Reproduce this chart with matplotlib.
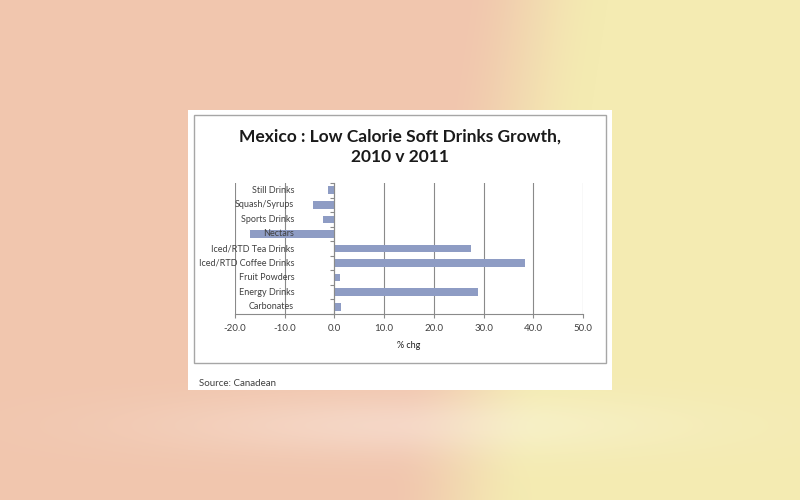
import numpy as np
import matplotlib
matplotlib.use("Agg")
import matplotlib.pyplot as plt
from matplotlib.patches import Rectangle
from matplotlib.colors import to_rgb

# ---------------------------------------------------------------------
# Data
# ---------------------------------------------------------------------
categories = ["Still Drinks", "Squash/Syrups", "Sports Drinks", "Nectars",
              "Iced/RTD Tea Drinks", "Iced/RTD Coffee Drinks", "Fruit Powders",
              "Energy Drinks", "Carbonates"]
pct_chg = [-1.2, -4.4, -2.2, -16.9, 27.4, 38.3, 1.1, 28.8, 1.4]
x_ticks = [-20, -10, 0, 10, 20, 30, 40, 50]

title = "Mexico : Low Calorie Soft Drinks Growth,\n2010 v 2011"
x_label = "% chg"
source = "Source: Canadean"

# Colours
bar_colour = "#8e9cc4"
grid_colour = "#8a8a8a"
peach = "#f1c6ae"
yellow = "#f4ebb2"

plt.rcParams["font.family"] = ["Lato", "DejaVu Sans"]

fig = plt.figure(figsize=(8, 5), dpi=100)

# ---------------------------------------------------------------------
# Background: peach to pale yellow blend
# ---------------------------------------------------------------------
bg = fig.add_axes([0, 0, 1, 1], zorder=-10)
h, w = 500, 800
yy, xx = np.mgrid[0:h, 0:w]
t = np.clip((xx - 420 + 0.15 * (yy - 250)) / 150.0, 0, 1)
t = t * t * (3 - 2 * t)
c1 = np.array(to_rgb(peach))
c2 = np.array(to_rgb(yellow))
img = c1[None, None, :] * (1 - t[..., None]) + c2[None, None, :] * t[..., None]
# lighter reflection below the panel
band = np.exp(-((yy - 425) / 30.0) ** 2) * np.exp(-((xx - 420) / 260.0) ** 2) * 0.3
img = img + (1 - img) * band[..., None]
bg.imshow(img, aspect="auto", extent=[0, 1, 0, 1])
bg.set_axis_off()

# white chart panel and inner border
fig.patches.append(Rectangle((0.235, 0.22), 0.53, 0.56, transform=fig.transFigure,
                             facecolor="white", edgecolor="none", zorder=-5))
fig.patches.append(Rectangle((0.2425, 0.274), 0.515, 0.496, transform=fig.transFigure,
                             facecolor="none", edgecolor="#a6a6a6", lw=1.0, zorder=-4))

# ---------------------------------------------------------------------
# Bar chart
# ---------------------------------------------------------------------
ax = fig.add_axes([0.29375, 0.372, 0.435, 0.262])
ax.set_facecolor("none")
pos = np.arange(len(categories))
ax.barh(pos, pct_chg, height=0.52, color=bar_colour, zorder=2)

ax.set_xlim(x_ticks[0], x_ticks[-1])
ax.set_ylim(len(categories) - 0.5, -0.5)
ax.set_xticks(x_ticks)
ax.set_xticklabels([f"{v:.1f}" for v in x_ticks], fontsize=7, color="#404040")
ax.tick_params(axis="x", length=3, width=0.8, color=grid_colour, pad=4)

# vertical gridlines
ax.set_axisbelow(True)
ax.grid(axis="x", color=grid_colour, lw=0.8)

for side in ["top", "right"]:
    ax.spines[side].set_visible(False)
ax.spines["bottom"].set_color(grid_colour)
ax.spines["left"].set_position(("data", 0))
ax.spines["left"].set_color(grid_colour)
ax.spines["left"].set_zorder(3)

ax.set_yticks([])
ax.set_yticks(np.arange(len(categories) + 1) - 0.5, minor=True)
ax.tick_params(axis="y", which="minor", length=3, width=0.8, color=grid_colour)

# category labels drawn on top of the bars
for i, name in enumerate(categories):
    ax.annotate(name, xy=(0, i), xytext=(-29, 0), textcoords="offset points",
                ha="right", va="center", fontsize=6.5, color="#404040", zorder=5)

ax.set_xlabel(x_label, fontsize=6.5, color="#202020", labelpad=6)

fig.text(0.5, 0.706, title, ha="center", va="center", fontsize=12.5,
         fontweight="bold", color="#1a1a1a", linespacing=1.35)
fig.text(0.249, 0.232, source, ha="left", va="center", fontsize=7, color="#404040")

fig.savefig("out.png", dpi=100)
